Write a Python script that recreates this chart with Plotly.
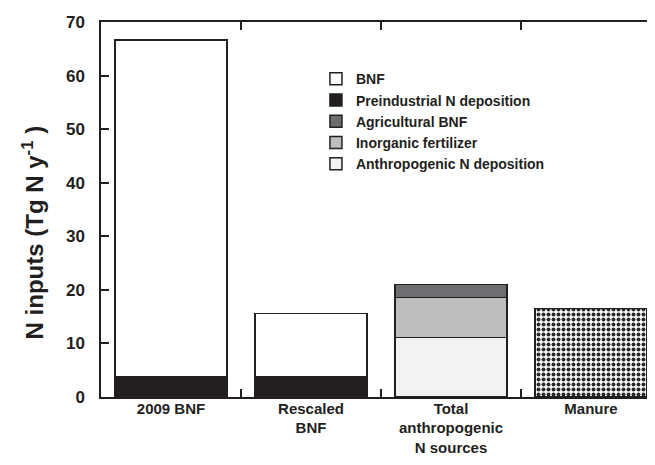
import plotly.graph_objects as go

categories = ["2009 BNF", "Rescaled<br>BNF", "Total<br>anthropogenic<br>N sources", "Manure"]
preindustrial_dep = [3.8, 3.8, None, None]
bnf = [62.8, 11.8, None, None]
anthropogenic_dep = [None, None, 11.1, None]
inorganic_fert = [None, None, 7.5, None]
agricultural_bnf = [None, None, 2.4, None]
manure = [None, None, None, 16.5]
y_ticks = [0, 10, 20, 30, 40, 50, 60, 70]

INK = "#231f20"
line = dict(color=INK, width=1.5)

fig = go.Figure()
fig.add_trace(go.Bar(x=categories, y=preindustrial_dep, name="Preindustrial N deposition",
                     marker=dict(color=INK, line=line), legendrank=2))
fig.add_trace(go.Bar(x=categories, y=bnf, name="BNF",
                     marker=dict(color="#ffffff", line=line), legendrank=1))
fig.add_trace(go.Bar(x=categories, y=anthropogenic_dep, name="Anthropogenic N deposition",
                     marker=dict(color="#f1f2f2", line=line), legendrank=5))
fig.add_trace(go.Bar(x=categories, y=inorganic_fert, name="Inorganic fertilizer",
                     marker=dict(color="#bcbec0", line=line), legendrank=4))
fig.add_trace(go.Bar(x=categories, y=agricultural_bnf, name="Agricultural BNF",
                     marker=dict(color="#6d6e71", line=line), legendrank=3))
fig.add_trace(go.Bar(x=categories, y=manure, name="Manure", showlegend=False,
                     marker=dict(color="#ffffff", line=line,
                                 pattern=dict(shape=".", fgcolor="#2a2a2a", bgcolor="#ffffff",
                                              size=5, solidity=0.5, fillmode="replace"))))

fig.update_layout(
    width=647, height=449,
    margin=dict(l=93, r=0, t=14, b=60),
    barmode="stack", bargap=0.2,
    plot_bgcolor="white", paper_bgcolor="white",
    font=dict(family="Liberation Sans, Arial, sans-serif", color=INK, weight="bold"),
    legend=dict(x=0.388, y=0.89, xanchor="left", yanchor="top", traceorder="normal",
                font=dict(size=14, weight="bold"), bgcolor="rgba(0,0,0,0)",
                tracegroupgap=0, itemclick=False),
    xaxis=dict(range=[-0.5, 3.457], tickson="boundaries", ticks="inside", ticklen=8,
               tickwidth=1.5, tickcolor=INK, showline=True, linecolor=INK, linewidth=1.5,
               mirror="ticks", tickfont=dict(size=15, weight="bold"), showgrid=False,
               automargin=False, ticklabelstandoff=-3),
    yaxis=dict(range=[0, 70], tickvals=y_ticks, ticks="inside", ticklen=8, tickwidth=1.5,
               tickcolor=INK, showline=True, linecolor=INK, linewidth=1.5, showgrid=False,
               zeroline=False, tickfont=dict(size=17, weight="bold"), automargin=False,
               ticklabelstandoff=11),
    yaxis2=dict(range=[0, 70], tickvals=y_ticks, overlaying="y", side="right", ticks="inside",
                ticklen=3, tickwidth=1, tickcolor=INK, showline=False, showgrid=False,
                zeroline=False, showticklabels=False, automargin=False),
    annotations=[dict(text="N inputs (Tg N y<sup>-1</sup> )", textangle=-90,
                      xref="paper", yref="paper", x=-0.1227, y=0.439,
                      xanchor="center", yanchor="middle", showarrow=False,
                      font=dict(size=24, weight="bold", color=INK))],
)

fig.write_html("out.html")
